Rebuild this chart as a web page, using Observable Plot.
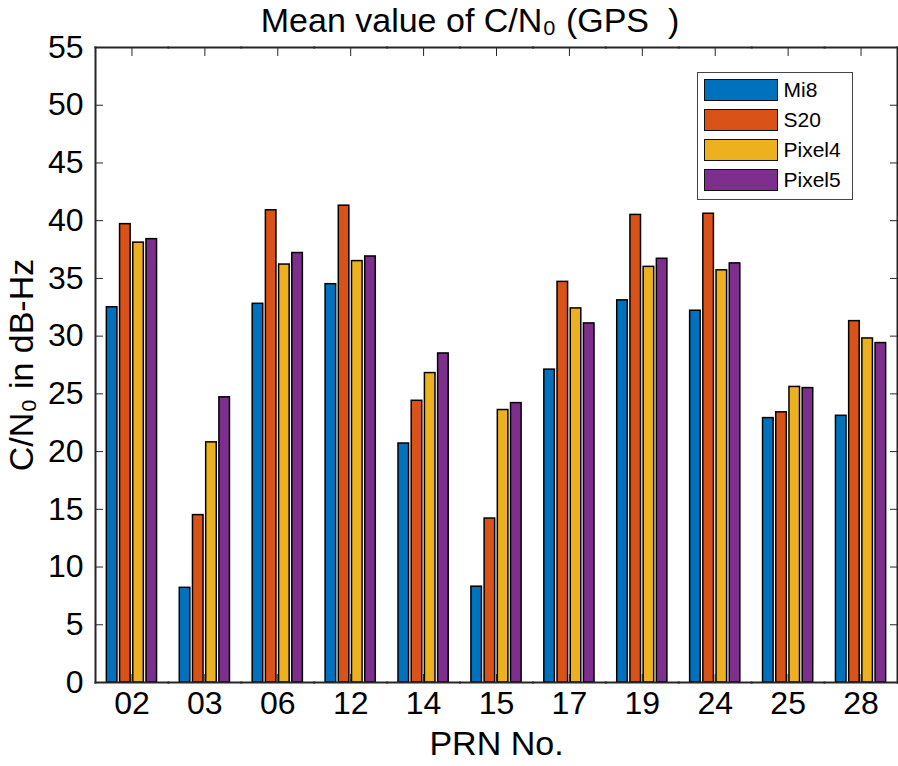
<!DOCTYPE html>
<html><head><meta charset="utf-8">
<script src="https://cdn.jsdelivr.net/npm/d3@7"></script>
<script src="https://cdn.jsdelivr.net/npm/@observablehq/plot@0.6"></script>
<style>
html,body{margin:0;padding:0;background:#fff;overflow:hidden;font-family:"Liberation Sans",Arial,Helvetica,sans-serif;}
#wrap{position:relative;width:898px;height:766px;overflow:hidden;}
#chart svg{display:block;}
#title{position:absolute;top:0;left:69px;height:40px;line-height:40px;width:802px;text-align:center;font-size:34px;white-space:pre;color:#000;}
#legend{position:absolute;left:697px;top:72px;width:156px;height:128px;border:1.5px solid #444;background:#fff;box-sizing:border-box;}
.row{position:absolute;left:5.5px;height:23px;}
.sw{position:absolute;left:0;top:0;width:72px;height:20px;border:1.5px solid #111;}
.lb{position:absolute;left:80px;top:-1px;font-size:21px;line-height:24px;white-space:nowrap;color:#000;}
</style></head><body>
<div id="wrap">
<div id="chart"></div>
<div id="title">Mean value of C/N₀ (GPS  )</div>
<div id="legend"></div>
</div>
<script>
const prns = ["02","03","06","12","14","15","17","19","24","25","28"];
const devices = ["Mi8","S20","Pixel4","Pixel5"];
const colors = ["#0072BD","#D95319","#EDB120","#7E2F8E"];
const mi8    = [32.5, 8.2, 32.8, 34.5, 20.7,  8.3, 27.1, 33.1, 32.2, 22.9, 23.1];
const s20    = [39.7,14.5, 40.9, 41.3, 24.4, 14.2, 34.7, 40.5, 40.6, 23.4, 31.3];
const pixel4 = [38.1,20.8, 36.2, 36.5, 26.8, 23.6, 32.4, 36.0, 35.7, 25.6, 29.8];
const pixel5 = [38.4,24.7, 37.2, 36.9, 28.5, 24.2, 31.1, 36.7, 36.3, 25.5, 29.4];
const yTicks = [0,5,10,15,20,25,30,35,40,45,50,55];

const series = [mi8, s20, pixel4, pixel5];
const data = [];
prns.forEach((p, i) => devices.forEach((d, j) => data.push({prn: p, device: d, value: series[j][i]})));

const axisColor = "#262626";
const chart = Plot.plot({
  width: 898,
  height: 766,
  marginTop: 47,
  marginBottom: 84,
  marginLeft: 95,
  marginRight: 1,
  style: {fontFamily: '"Liberation Sans", Arial, sans-serif', background: "#fff", color: "#000", maxWidth: "none"},
  fx: {domain: prns, padding: 0, round: false},
  x: {domain: devices, paddingInner: 0.2, paddingOuter: 0.86, round: false, axis: null},
  y: {domain: [0, 55]},
  color: {domain: devices, range: colors},
  marks: [
    Plot.barY(data, {fx: "prn", x: "device", y: "value", fill: "device", stroke: "#000", strokeWidth: 1.5}),
    Plot.frame({anchor: "bottom", stroke: axisColor, strokeWidth: 2}),
    Plot.frame({anchor: "top", stroke: axisColor, strokeWidth: 2}),
    Plot.frame({anchor: "left", facetAnchor: "left", stroke: axisColor, strokeWidth: 2}),
    Plot.frame({anchor: "right", facetAnchor: "right", stroke: axisColor, strokeWidth: 2}),
    Plot.axisY({anchor: "left", ticks: yTicks, tickSize: -8, tickPadding: 20, fontSize: 32, stroke: axisColor, label: null}),
    Plot.axisY({anchor: "left", ticks: [], tickSize: 0, fontSize: 34,
      label: "C/N₀ in dB-Hz", labelAnchor: "center", labelOffset: 87, labelArrow: false}),
    Plot.axisY({anchor: "right", ticks: yTicks, tickSize: -8, tickFormat: () => "", label: null, stroke: axisColor}),
    Plot.axisFx({anchor: "bottom", tickSize: -8, tickPadding: 17, fontSize: 32, stroke: axisColor, label: null}),
    Plot.axisFx({anchor: "bottom", ticks: [], tickSize: 0, fontSize: 34,
      label: "PRN No.", labelAnchor: "center", labelOffset: 72}),
    Plot.axisFx({anchor: "top", tickSize: -8, tickFormat: () => "", label: null, stroke: axisColor})
  ]
});
document.getElementById("chart").appendChild(chart);

const leg = document.getElementById("legend");
devices.forEach((d, i) => {
  const row = document.createElement("div");
  row.className = "row";
  row.style.top = (5.5 + i * 30.3) + "px";
  const sw = document.createElement("div");
  sw.className = "sw";
  sw.style.background = colors[i];
  const lb = document.createElement("div");
  lb.className = "lb";
  lb.textContent = d;
  row.appendChild(sw); row.appendChild(lb);
  leg.appendChild(row);
});
</script>
</body></html>
